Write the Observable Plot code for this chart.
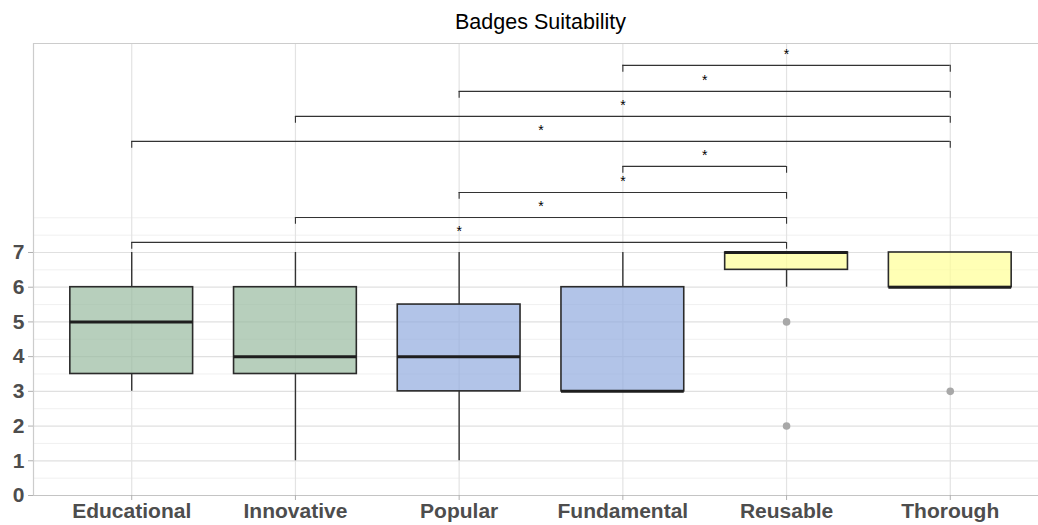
<!DOCTYPE html>
<html>
<head>
<meta charset="utf-8">
<script src="https://cdn.jsdelivr.net/npm/d3@7"></script>
<script src="https://cdn.jsdelivr.net/npm/@observablehq/plot@0.6"></script>
<style>
  body { margin: 0; background: #fff; font-family: "Liberation Sans", Arial, sans-serif; }
  #title { width: 1038px; height: 30px; box-sizing: border-box; padding-top: 12px; padding-left: 43px;
           text-align: center; font-size: 21.5px; line-height: 20px; color: #000; white-space: nowrap; }
</style>
</head>
<body>
<div id="title">Badges Suitability</div>
<div id="chart"></div>
<script>
const categories = ["Educational", "Innovative", "Popular", "Fundamental", "Reusable", "Thorough"];
const boxColors = ["#98ba9f", "#98ba9f", "#92abde", "#92abde", "#ffff95", "#ffff95"];
const q1 = [3.5, 3.5, 3, 3, 6.5, 6];
const medians = [5, 4, 4, 3, 7, 6];
const q3 = [6, 6, 5.5, 6, 7, 7];
const whiskerLow = [3, 1, 1, 3, 6, 6];
const whiskerHigh = [7, 7, 7, 7, 7, 7];
const outlierCats = ["Reusable", "Reusable", "Thorough"];
const outlierValues = [5, 2, 3];
const bracketFrom = ["Educational", "Innovative", "Popular", "Fundamental", "Educational", "Innovative", "Popular", "Fundamental"];
const bracketTo = ["Reusable", "Reusable", "Reusable", "Reusable", "Thorough", "Thorough", "Thorough", "Thorough"];
const bracketY = [7.29, 8.01, 8.73, 9.48, 10.2, 10.92, 11.64, 12.39];
const bracketLabels = ["*", "*", "*", "*", "*", "*", "*", "*"];
const yTicks = [0, 1, 2, 3, 4, 5, 6, 7];
const yMinor = [0.5, 1.5, 2.5, 3.5, 4.5, 5.5, 6.5, 7.5, 8];

const idx = c => categories.indexOf(c);
const half = 0.375;
const tip = 0.2;

const boxes = categories.map((c, i) => ({
  i, c, q1: q1[i], med: medians[i], q3: q3[i], lo: whiskerLow[i], hi: whiskerHigh[i], fill: boxColors[i]
}));
const outliers = outlierCats.map((c, k) => ({i: idx(c), v: outlierValues[k]}));
const brackets = bracketFrom.map((f, k) => ({
  a: idx(f), b: idx(bracketTo[k]), y: bracketY[k], label: bracketLabels[k]
}));
const tips = brackets.flatMap(d => [{x: d.a, y: d.y}, {x: d.b, y: d.y}]);

const yTop = 13.02;

const plot = Plot.plot({
  width: 1038,
  height: 495,
  marginLeft: 33,
  marginRight: 0,
  marginTop: 13,
  marginBottom: 30,
  style: {fontFamily: "'Liberation Sans', Arial, sans-serif", background: "#fff"},
  x: {type: "linear", domain: [-0.6, 5.6], range: [33, 1048]},
  y: {type: "linear", domain: [0, yTop], range: [465, 13]},
  marks: [
    // grid
    Plot.ruleY(yMinor, {x1: -0.6, x2: 5.6, stroke: "#f0f0f0", strokeWidth: 1}),
    Plot.ruleY(yTicks, {x1: -0.6, x2: 5.6, stroke: "#e0e0e0", strokeWidth: 1.2}),
    Plot.ruleX(categories.map((c, i) => i), {y1: 0, y2: yTop, stroke: "#e3e3e3", strokeWidth: 1.2}),
    // panel border
    Plot.ruleY([yTop], {x1: -0.6, x2: 5.6, stroke: "#cccccc", strokeWidth: 1.2}),
    Plot.ruleX([-0.6], {y1: 0, y2: yTop, stroke: "#cccccc", strokeWidth: 1.2}),
    Plot.ruleY([0], {x1: -0.6, x2: 5.6, stroke: "#c4c4c4", strokeWidth: 1.2}),
    // whiskers
    Plot.ruleX(boxes.filter(d => d.lo < d.q1), {x: "i", y1: "lo", y2: "q1", stroke: "#333", strokeWidth: 1.4}),
    Plot.ruleX(boxes.filter(d => d.hi > d.q3), {x: "i", y1: "q3", y2: "hi", stroke: "#333", strokeWidth: 1.4}),
    // boxes
    Plot.rect(boxes, {x1: d => d.i - half, x2: d => d.i + half, y1: "q1", y2: "q3",
      fill: "fill", fillOpacity: 0.7, stroke: "#2b2b2b", strokeWidth: 1.6}),
    Plot.ruleY(boxes, {y: "med", x1: d => d.i - half, x2: d => d.i + half, stroke: "#1e1e1e", strokeWidth: 3}),
    // outliers
    Plot.dot(outliers, {x: "i", y: "v", r: 3.8, fill: "#a8a8a8", stroke: "none"}),
    // significance brackets
    Plot.ruleY(brackets, {y: "y", x1: "a", x2: "b", stroke: "#333", strokeWidth: 1.1}),
    Plot.ruleX(tips, {x: "x", y1: d => d.y - tip, y2: "y", stroke: "#333", strokeWidth: 1.1}),
    Plot.text(brackets, {x: d => (d.a + d.b) / 2, y: "y", text: "label", dy: -11, fontSize: 14, fill: "#000"}),
    // axes
    Plot.axisY({ticks: yTicks, tickSize: 5, tickFormat: () => "", stroke: "#b0b0b0", color: "#b0b0b0"}),
    Plot.axisY({ticks: yTicks, tickSize: 0, tickPadding: 9, fontSize: 21, fontWeight: "bold", color: "#4d4d4d", tickFormat: d => d}),
    Plot.axisX({ticks: [0, 1, 2, 3, 4, 5], tickSize: 5, tickFormat: () => "", color: "#b0b0b0"}),
    Plot.axisX({ticks: [0, 1, 2, 3, 4, 5], tickSize: 0, tickPadding: 8, fontSize: 21, fontWeight: "bold", color: "#4d4d4d", tickFormat: i => categories[i]})
  ]
});
document.getElementById("chart").appendChild(plot);
</script>
</body>
</html>
